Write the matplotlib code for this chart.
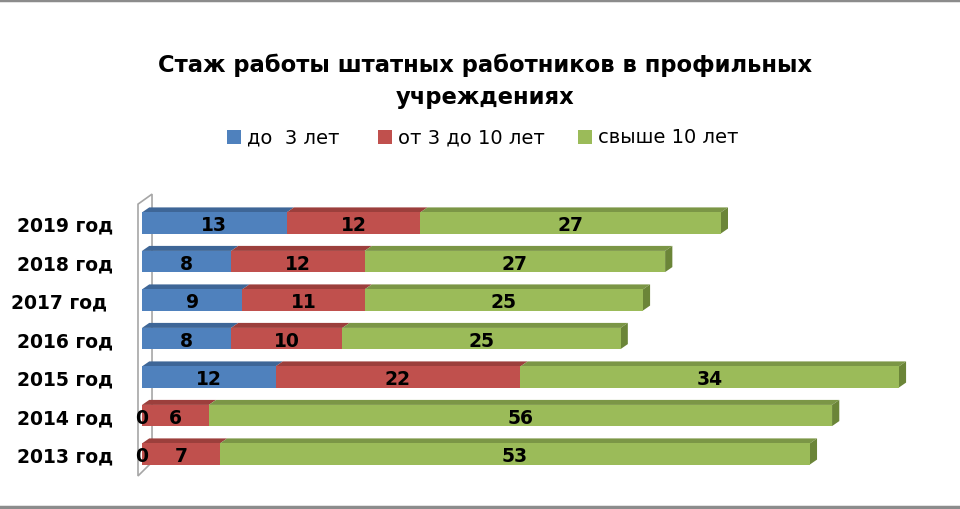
import matplotlib.pyplot as plt
from matplotlib.lines import Line2D
from matplotlib.patches import Polygon, Rectangle

# data
years = ["2013 год", "2014 год", "2015 год", "2016 год", "2017 год ", "2018 год", "2019 год"]
under_3 = [0, 0, 12, 8, 9, 8, 13]
from_3_to_10 = [7, 6, 22, 10, 11, 12, 12]
over_10 = [53, 56, 34, 25, 25, 27, 27]
series_names = ["до  3 лет", "от 3 до 10 лет", "свыше 10 лет"]

title = "Стаж работы штатных работников в профильных\nучреждениях"

front = ["#4F81BD", "#C0504D", "#9BBB59"]
top = ["#3E6697", "#9C3F3C", "#7B9646"]
side = "#6B8538"

H = 0.55    # front face height
DX = 0.65   # depth offset in x
DY = 0.13   # depth offset in y

fig = plt.figure(figsize=(9.6, 5.1), dpi=100)
ax = fig.add_axes([120 / 960, 1 - 495 / 510, 830 / 960, 310 / 510])
ax.set_xlim(-22 / 11.13, 808 / 11.13)
ax.set_ylim(-40 / 38.5, 270 / 38.5)
for s in ax.spines.values():
    s.set_visible(False)
ax.set_xticks([])

# thin 3D side wall
wall = Polygon([(-0.36, 6.49), (0.9, 6.75), (0.9, -0.21), (-0.36, -0.57)],
               closed=True, facecolor="white", edgecolor="#A6A6A6", lw=1.2, zorder=1)
ax.add_patch(wall)

y = list(range(len(years)))
series = [under_3, from_3_to_10, over_10]
lefts = [0] * len(years)
for k, vals in enumerate(series):
    ax.barh(y, vals, left=lefts, height=H, color=front[k], zorder=3)
    for i, v in enumerate(vals):
        l = lefts[i]
        r = l + v
        yt = y[i] + H / 2
        if v > 0:
            ax.add_patch(Polygon([(l, yt), (r, yt), (r + DX, yt + DY), (l + DX, yt + DY)],
                                 closed=True, facecolor=top[k], edgecolor="none", zorder=2))
        ax.text(l + v / 2, y[i] - 0.04, str(v), ha="center", va="center",
                fontsize=13.5, fontweight="bold", color="black", zorder=5)
    lefts = [a + b for a, b in zip(lefts, vals)]

# right side faces
for i, total in enumerate(lefts):
    yb = y[i] - H / 2
    yt = y[i] + H / 2
    ax.add_patch(Polygon([(total, yb), (total + DX, yb + DY), (total + DX, yt + DY), (total, yt)],
                         closed=True, facecolor=side, edgecolor="none", zorder=2))

ax.set_yticks(y)
ax.set_yticklabels(years, fontsize=13.5, fontweight="bold")
ax.tick_params(axis="y", length=0, pad=5)

fig.text(0.505, 1 - 81 / 510, title, ha="center", va="center", fontsize=16.3,
         fontweight="bold", linespacing=1.5)

# legend
leg_y = 1 - 138 / 510
for x0, name, c in zip([227, 378, 578], series_names, front):
    fig.add_artist(Rectangle((x0 / 960, leg_y - 7 / 510), 14 / 960, 14 / 510,
                             transform=fig.transFigure, facecolor=c, edgecolor="none"))
    fig.text((x0 + 20) / 960, leg_y, name, ha="left", va="center", fontsize=14)

# outer frame lines
for yy in [1 - 1 / 510, 2 / 510]:
    fig.add_artist(Line2D([0, 1], [yy, yy], transform=fig.transFigure, color="#8C8C8C", lw=2.5))

fig.savefig("out.png", dpi=100)
